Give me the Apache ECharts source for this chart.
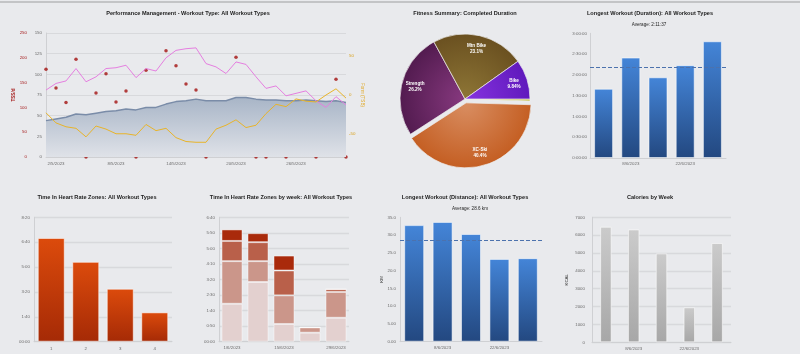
<!DOCTYPE html>
<html>
<head>
<meta charset="utf-8">
<title>Training dashboard</title>
<script src="https://cdn.jsdelivr.net/npm/echarts@6/dist/echarts.min.js"></script>
<style>
html,body{margin:0;padding:0;background:#e9eaed;overflow:hidden;}
#dashboard{width:800px;height:354px;}
#topLine{position:absolute;left:0;top:1px;width:800px;height:2px;background:#c3c4c6;}
</style>
</head>
<body>
<div id="dashboard"></div>
<div id="topLine"></div>
<script>
// performance management, May 2023
const pmDays = ['1/5/2023','2/5/2023','3/5/2023','4/5/2023','5/5/2023','6/5/2023','7/5/2023','8/5/2023',
  '9/5/2023','10/5/2023','11/5/2023','12/5/2023','13/5/2023','14/5/2023','15/5/2023','16/5/2023',
  '17/5/2023','18/5/2023','19/5/2023','20/5/2023','21/5/2023','22/5/2023','23/5/2023','24/5/2023',
  '25/5/2023','26/5/2023','27/5/2023','28/5/2023','29/5/2023','30/5/2023','31/5/2023'];
const tssPerDay = [177,139,110,197,0,129,168,111,133,0,175,87,214,184,147,135,0,83,51,201,95,0,0,108,0,95,97,0,6,157,0];
const fitnessCtl = [44,46,48,52,51,53,55,56,58,57,60,60,64,67,68,70,68,68,68,72,72,70,69,69,68,68,69,68,67,68,66];
const fatigueAtl = [81,89,92,107,91,97,107,108,111,96,107,104,120,129,131,132,113,109,101,115,112,97,83,86,74,77,80,68,60,73,63];
const formTsb = [-23,-36,-41,-43,-54,-40,-44,-50,-50,-52,-38,-46,-43,-55,-60,-61,-61,-44,-39,-32,-42,-39,-24,-12,-15,-5,-8,-9,0,8,-4];

// fitness summary (completed duration share, %)
const sportNames = ['Run','XC-Ski','Strength','Mtn Bike','Bike'];
const sportShares = [0.46,40.4,26.2,23.1,9.84];

// weekly charts
const weeks = ['1/6/2023','8/6/2023','15/6/2023','22/6/2023','29/6/2023'];
const longestMinutes = [100,145,116.5,134,168.5];
const avgLongestSec = 7897; // 2:11:37
const longestKm = [32.8,33.7,30.3,23.3,23.5];
const avgKm = 28.6;
const weeklyKcal = [6470,6320,4980,1960,5560];

// heart rate zones (minutes)
const zoneNames = ['1','2','3','4'];
const zoneMinutes = [417,321,213,118];
const zone1Weekly = [122,192,57,29,77];
const zone2Weekly = [137,67,92,17,83];
const zone3Weekly = [65,61,80,0,9];
const zone4Weekly = [37,29,48,0,0];

const font = 'Liberation Sans';
const labelStyle = {color:'#6b6b6b', fontSize:4.4, fontFamily:font};
const gridLine = {lineStyle:{color:'#d8d9dc', width:1.3}};
const axisLineGray = {show:true, lineStyle:{color:'#cfd0d3'}};
const barEdge = {borderColor:'rgba(255,255,255,0.55)', borderWidth:1};

function pad(n){ return String(n).padStart(2,'0'); }
function hm(v){ return v === 0 ? '00:00' : Math.floor(v/60) + ':' + pad(v%60); }
function grad(top, bottom){
  return new echarts.graphic.LinearGradient(0,0,0,1,[{offset:0,color:top},{offset:1,color:bottom}]);
}
function sliceGrad(inner, outer){
  return new echarts.graphic.RadialGradient(465,99,66,[{offset:0,color:inner},{offset:1,color:outer}],true);
}
function title(text, x, y, bold){
  return {type:'text', x:x, y:y, style:{text:text, fill:'#222', fontSize: bold ? 5.6 : 4.6,
    fontWeight: bold ? 'bold' : 'normal', fontFamily:font, align:'center', verticalAlign:'middle'}};
}
function weekAxis(gridIndex, showOdd){
  return {type:'category', gridIndex:gridIndex, data:weeks, axisLine:axisLineGray, axisTick:{show:false},
    axisLabel:Object.assign({}, labelStyle, {margin:4, interval:(i)=> showOdd ? i%2===1 : i%2===0})};
}

const sliceColors = [
  ['#ddd436','#b9b012'],
  ['#d98e62','#c45e22'],
  ['#87397f','#521b4f'],
  ['#8e7636','#6a5020'],
  ['#8633e0','#6019bc']
];

var myChart = echarts.init(document.getElementById('dashboard'), null, {renderer:'canvas'});
myChart.setOption({
  backgroundColor:'#e9eaed',
  animation:false,
  graphic:[
    title('Performance Management - Workout Type: All Workout Types', 188, 13.5, true),
    title('Fitness Summary: Completed Duration', 465, 13.5, true),
    title('Longest Workout (Duration): All Workout Types', 650, 13.5, true),
    title('Average: ' + Math.floor(avgLongestSec/3600) + ':' + pad(Math.floor(avgLongestSec%3600/60)) + ':' + pad(avgLongestSec%60), 649, 24.5, false),
    title('Time In Heart Rate Zones: All Workout Types', 97, 197.7, true),
    title('Time In Heart Rate Zones by week: All Workout Types', 281, 197.7, true),
    title('Longest Workout (Distance): All Workout Types', 465, 197.7, true),
    title('Average: ' + avgKm + ' km', 470, 208.5, false),
    title('Calories by Week', 650, 197.7, true)
  ],
  grid:[
    {left:46, top:33, width:300, height:124, outerBoundsMode:'none'},
    {left:590, top:33.3, width:136, height:124.7, outerBoundsMode:'none'},
    {left:34, top:217.3, width:138, height:124.4, outerBoundsMode:'none'},
    {left:219, top:217.3, width:130, height:124.4, outerBoundsMode:'none'},
    {left:400, top:217.3, width:142, height:124.4, outerBoundsMode:'none'},
    {left:592, top:217.3, width:139, height:125, outerBoundsMode:'none'}
  ],
  xAxis:[
    {type:'category', gridIndex:0, data:pmDays, boundaryGap:false, axisLine:axisLineGray, axisTick:{show:false},
      axisLabel:Object.assign({}, labelStyle, {margin:5, interval:(i)=> i%6===1})},
    weekAxis(1, true),
    {type:'category', gridIndex:2, data:zoneNames, axisLine:axisLineGray, axisTick:{show:false},
      axisLabel:Object.assign({}, labelStyle, {margin:5})},
    weekAxis(3, false),
    weekAxis(4, true),
    weekAxis(5, true)
  ],
  yAxis:[
    {type:'value', gridIndex:0, min:0, max:150, interval:25, position:'left',
      axisLine:axisLineGray, axisTick:{show:false}, axisLabel:Object.assign({}, labelStyle, {margin:4}),
      splitLine:{lineStyle:{color:'#d8d9dc', width:1}}},
    {type:'value', gridIndex:0, min:0, max:250, interval:50, position:'left', offset:15,
      name:'TSS/d', nameLocation:'middle', nameGap:13,
      nameTextStyle:{color:'#a61b1b', fontSize:4.6, fontWeight:'bold', fontFamily:font},
      axisLine:{show:false}, axisTick:{show:false}, splitLine:{show:false},
      axisLabel:{color:'#a61b1b', fontSize:4.4, fontFamily:font, margin:4}},
    {type:'value', gridIndex:0, min:-80, max:80, interval:10, position:'right',
      name:'Form (TSB)', nameLocation:'middle', nameRotate:-90, nameGap:14,
      nameTextStyle:{color:'#e0a825', fontSize:4.6, fontFamily:font},
      axisLine:{show:false}, axisTick:{show:false}, splitLine:{show:false},
      axisLabel:{color:'#d9a21e', fontSize:4.4, fontFamily:font, margin:3, formatter:(v)=> v%50===0 ? String(v) : ''}},
    {type:'value', gridIndex:1, min:0, max:180, interval:30, axisLine:axisLineGray, axisTick:{show:false},
      splitLine:{show:false},
      axisLabel:Object.assign({}, labelStyle, {margin:3, formatter:(v)=> Math.floor(v/60) + ':' + pad(v%60) + ':00'})},
    {type:'value', gridIndex:2, min:0, max:500, interval:100, axisLine:axisLineGray, axisTick:{show:false},
      splitLine:gridLine, axisLabel:Object.assign({}, labelStyle, {margin:4, formatter:hm})},
    {type:'value', gridIndex:3, min:0, max:400, interval:50, axisLine:axisLineGray, axisTick:{show:false},
      splitLine:gridLine, axisLabel:Object.assign({}, labelStyle, {margin:4, formatter:hm})},
    {type:'value', gridIndex:4, min:0, max:35, interval:5, axisLine:axisLineGray, axisTick:{show:false},
      splitLine:{show:false}, name:'KM', nameLocation:'middle', nameGap:16,
      nameTextStyle:{color:'#333', fontSize:4.4, fontFamily:font},
      axisLabel:Object.assign({}, labelStyle, {margin:4, formatter:(v)=> v>=10 ? v.toFixed(1) : v.toFixed(2)})},
    {type:'value', gridIndex:5, min:0, max:7000, interval:1000, axisLine:axisLineGray, axisTick:{show:false},
      splitLine:gridLine, name:'KCAL', nameLocation:'middle', nameGap:23,
      nameTextStyle:{color:'#333', fontSize:4.4, fontFamily:font},
      axisLabel:Object.assign({}, labelStyle, {margin:7, formatter:(v)=> String(v)})}
  ],
  series:[
    {name:'Fitness (CTL)', type:'line', xAxisIndex:0, yAxisIndex:0, data:fitnessCtl, symbol:'none',
      lineStyle:{color:'#7a8ca8', width:1.5}, areaStyle:{color:grad('#a8b5c7','#dfe2e8'), opacity:1}},
    {name:'Fatigue (ATL)', type:'line', xAxisIndex:0, yAxisIndex:0, data:fatigueAtl, symbol:'none',
      lineStyle:{color:'#e57fe0', width:1}},
    {name:'Form (TSB)', type:'line', xAxisIndex:0, yAxisIndex:2, data:formTsb, symbol:'none',
      lineStyle:{color:'#e8b42a', width:1}},
    {name:'TSS/d', type:'scatter', xAxisIndex:0, yAxisIndex:1, data:tssPerDay, symbolSize:3.5,
      itemStyle:{color:'#a3100f'}},
    {type:'pie', center:[465,99], radius:65, startAngle:0, clockwise:true, selectedMode:'single', selectedOffset:4,
      avoidLabelOverlap:false, label:{show:false}, labelLine:{show:false},
      itemStyle:{borderColor:'#eeeeee', borderWidth:0.7},
      data:sportNames.map((n,i)=>({name:n, value:sportShares[i], selected:n==='XC-Ski',
        itemStyle:{color:sliceGrad(sliceColors[i][0], sliceColors[i][1])}}))},
    {type:'pie', center:[465,99], radius:[32,65], startAngle:0, clockwise:true, selectedMode:'single', selectedOffset:4,
      silent:true, avoidLabelOverlap:false, labelLine:{show:false},
      itemStyle:{color:'rgba(0,0,0,0)', borderWidth:0},
      label:{show:true, position:'inside', color:'#fff', fontSize:4.6, fontWeight:'bold', fontFamily:font, lineHeight:6,
        formatter:(p)=> p.percent < 2 ? '' : p.name + '\n' + Number(p.percent).toPrecision(3) + '%'},
      data:sportNames.map((n,i)=>({name:n, value:sportShares[i], selected:n==='XC-Ski'}))},
    {type:'bar', xAxisIndex:1, yAxisIndex:3, data:longestMinutes, barWidth:19,
      itemStyle:Object.assign({color:grad('#4485d8','#234880')}, barEdge),
      markLine:{silent:true, symbol:'none', label:{show:false},
        lineStyle:{color:'#4c72ad', type:[4,2], width:1}, data:[{yAxis:avgLongestSec/60}]}},
    {type:'bar', xAxisIndex:2, yAxisIndex:4, data:zoneMinutes, barWidth:27,
      itemStyle:Object.assign({color:grad('#dc4b0c','#a52a06')}, barEdge)},
    {type:'bar', xAxisIndex:3, yAxisIndex:5, stack:'zones', data:zone1Weekly, barWidth:21,
      itemStyle:{color:'#e3d0cf', borderColor:'rgba(255,255,255,0.45)', borderWidth:1}},
    {type:'bar', xAxisIndex:3, yAxisIndex:5, stack:'zones', data:zone2Weekly, barWidth:21,
      itemStyle:{color:'#cb968a', borderColor:'rgba(255,255,255,0.45)', borderWidth:1}},
    {type:'bar', xAxisIndex:3, yAxisIndex:5, stack:'zones', data:zone3Weekly, barWidth:21,
      itemStyle:{color:'#b9604a', borderColor:'rgba(255,255,255,0.45)', borderWidth:1}},
    {type:'bar', xAxisIndex:3, yAxisIndex:5, stack:'zones', data:zone4Weekly, barWidth:21,
      itemStyle:{color:'#a92a0b', borderColor:'rgba(255,255,255,0.45)', borderWidth:1}},
    {type:'bar', xAxisIndex:4, yAxisIndex:6, data:longestKm, barWidth:20,
      itemStyle:Object.assign({color:grad('#4485d8','#234880')}, barEdge),
      markLine:{silent:true, symbol:'none', label:{show:false},
        lineStyle:{color:'#4c72ad', type:[4,2], width:1}, data:[{yAxis:avgKm}]}},
    {type:'bar', xAxisIndex:5, yAxisIndex:7, data:weeklyKcal, barWidth:11.5,
      itemStyle:Object.assign({color:grad('#cbcbcb','#a7a7a7')}, barEdge)}
  ]
});
</script>
</body>
</html>
